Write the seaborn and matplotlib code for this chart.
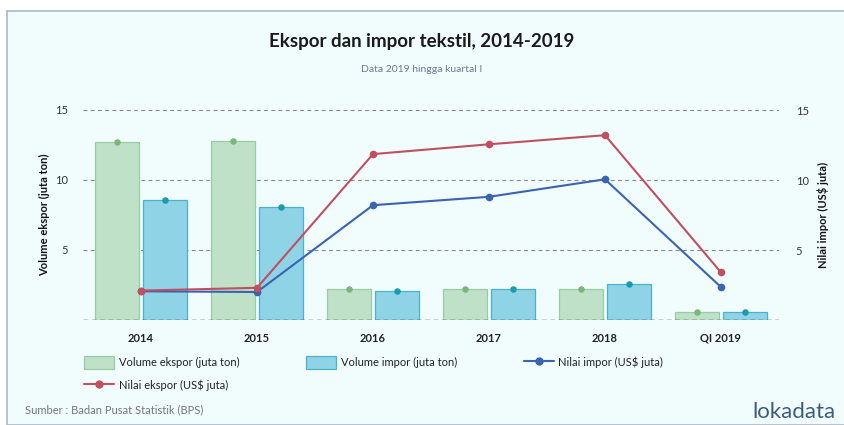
import pandas as pd
import numpy as np
import matplotlib
matplotlib.use("Agg")
import matplotlib.pyplot as plt
import seaborn as sns
from matplotlib.patches import Patch, Rectangle
from matplotlib.lines import Line2D

# ---- data ----
tahun = ["2014", "2015", "2016", "2017", "2018", "QI 2019"]
volume_ekspor = [12.7, 12.8, 2.2, 2.2, 2.2, 0.6]      # juta ton
volume_impor = [8.55, 8.05, 2.1, 2.25, 2.55, 0.6]     # juta ton
nilai_impor = [2.05, 2.0, 8.2, 8.8, 10.05, 2.35]      # US$ juta
nilai_ekspor = [2.1, 2.3, 11.85, 12.55, 13.2, 3.4]    # US$ juta

lbl_vol_eks = "Volume ekspor (juta ton)"
lbl_vol_imp = "Volume impor (juta ton)"
lbl_nil_imp = "Nilai impor (US$ juta)"
lbl_nil_eks = "Nilai ekspor (US$ juta)"

# ---- style ----
bg = "#f1fdfd"
green_fill, green_edge, green_dot = "#bfe1c7", "#9ccaa7", "#78b878"
blue_fill, blue_edge, blue_dot = "#8fd3e6", "#4fb1c7", "#1b9bab"
red_line = "#c0505f"
navy_line = "#3a63b0"

sns.set_theme(style="white")
plt.rcParams["font.family"] = ["Lato", "DejaVu Sans"]
plt.rcParams["font.size"] = 8

fig = plt.figure(figsize=(8.44, 4.25), dpi=100)
fig.patch.set_facecolor("white")
# panel background with thin border on top/left
fig.patches.append(Rectangle((7/844, 0), 1, 1 - 11/425, transform=fig.transFigure,
                             facecolor=bg, edgecolor="#a9b9c9", linewidth=1.2, zorder=-5))

ax = fig.add_axes([83/844, 1 - 320/425, (779 - 83)/844, 210/425])
ax.set_facecolor("none")

df = pd.DataFrame({
    "tahun": tahun * 2,
    "nilai": volume_ekspor + volume_impor,
    "seri": [lbl_vol_eks] * len(tahun) + [lbl_vol_imp] * len(tahun),
})
sns.barplot(data=df, x="tahun", y="nilai", hue="seri", order=tahun,
            palette=[green_fill, blue_fill], saturation=1, width=0.82, gap=0.08,
            legend=False, ax=ax, zorder=2)

n = len(tahun)
for k, p in enumerate(ax.patches):
    edge = green_edge if k < n else blue_edge
    dot = green_dot if k < n else blue_dot
    p.set_edgecolor(edge)
    p.set_linewidth(0.9)
    ax.scatter(p.get_x() + p.get_width() / 2, p.get_height(), s=22, color=dot,
               zorder=4, clip_on=False, linewidths=0)

ax.set_xlim(-0.5, n - 0.5)
ax.set_ylim(0, 15)
ax.set_yticks([0, 5, 10, 15])
ax.set_yticklabels(["", "5", "10", "15"])
for y in [5, 10, 15]:
    ax.axhline(y, color="#8a8a8a", linestyle=(0, (3.5, 3)), linewidth=0.8, zorder=1)
ax.axhline(0, color="#222222", linestyle=(0, (3.5, 2.5)), linewidth=1.0, zorder=5)
for s in ax.spines.values():
    s.set_visible(False)
ax.tick_params(axis="both", length=0)
ax.tick_params(axis="y", pad=11, labelsize=8, labelcolor="#333333")
ax.tick_params(axis="x", pad=9, labelsize=8, labelcolor="#222222")
for t in ax.get_xticklabels():
    t.set_fontweight("bold")
ax.set_xlabel("")
ax.set_ylabel("Volume ekspor (juta ton)", fontsize=8, fontweight="bold",
              color="#111111", labelpad=3)

# ---- lines on right axis ----
ax2 = ax.twinx()
ax2.set_facecolor("none")
xpos = np.arange(n)
sns.lineplot(x=xpos, y=nilai_impor, ax=ax2, color=navy_line, linewidth=1.5,
             marker="o", markersize=5.5, markeredgewidth=0, zorder=6)
sns.lineplot(x=xpos, y=nilai_ekspor, ax=ax2, color=red_line, linewidth=1.5,
             marker="o", markersize=5.5, markeredgewidth=0, zorder=6)
ax2.set_ylim(0, 15)
ax2.set_xlim(-0.5, n - 0.5)
ax2.set_yticks([5, 10, 15])
ax2.set_yticklabels(["5", "10", "15"])
for s in ax2.spines.values():
    s.set_visible(False)
ax2.tick_params(axis="y", length=0, pad=12, labelsize=8, labelcolor="#333333")
ax2.set_ylabel("Nilai impor (US$ juta)", fontsize=8, fontweight="bold",
               color="#111111", labelpad=6)
ax2.yaxis.set_label_position("right")
ax2.grid(False)

# ---- titles ----
fig.text(0.5, 1 - 42/425, "Ekspor dan impor tekstil, 2014-2019", ha="center", va="center",
         fontsize=13.5, fontweight="bold", color="#1a1a1a")
fig.text(0.5, 1 - 70/425, "Data 2019 hingga kuartal I", ha="center", va="center",
         fontsize=7.5, color="#6b7a99")

# ---- legend (column-major fill -> order so rows read like the reference) ----
handles = [
    Patch(facecolor=green_fill, edgecolor=green_edge, linewidth=0.9, label=lbl_vol_eks),
    Line2D([], [], color=red_line, linewidth=1.5, marker="o", markersize=5, label=lbl_nil_eks),
    Patch(facecolor=blue_fill, edgecolor=blue_edge, linewidth=0.9, label=lbl_vol_imp),
    Line2D([], [], color=navy_line, linewidth=1.5, marker="o", markersize=5, label=lbl_nil_imp),
]
leg = fig.legend(handles=handles, ncol=3, loc="upper left",
                 bbox_to_anchor=(80/844, 1 - 352/425), frameon=False,
                 fontsize=8, handlelength=2.7, handleheight=1.3, handletextpad=0.4,
                 columnspacing=6.0, labelspacing=0.95, borderaxespad=0)
for t in leg.get_texts():
    t.set_color("#222222")

# ---- footer ----
fig.text(25/844, 1 - 410/425, "Sumber : Badan Pusat Statistik (BPS)", ha="left", va="center",
         fontsize=8, color="#777777")
fig.text(752/844, 1 - 412/425, "lokadata", ha="left", va="center",
         fontsize=16, color="#3c5a82")

fig.savefig("out.png", dpi=100, facecolor=fig.get_facecolor())
